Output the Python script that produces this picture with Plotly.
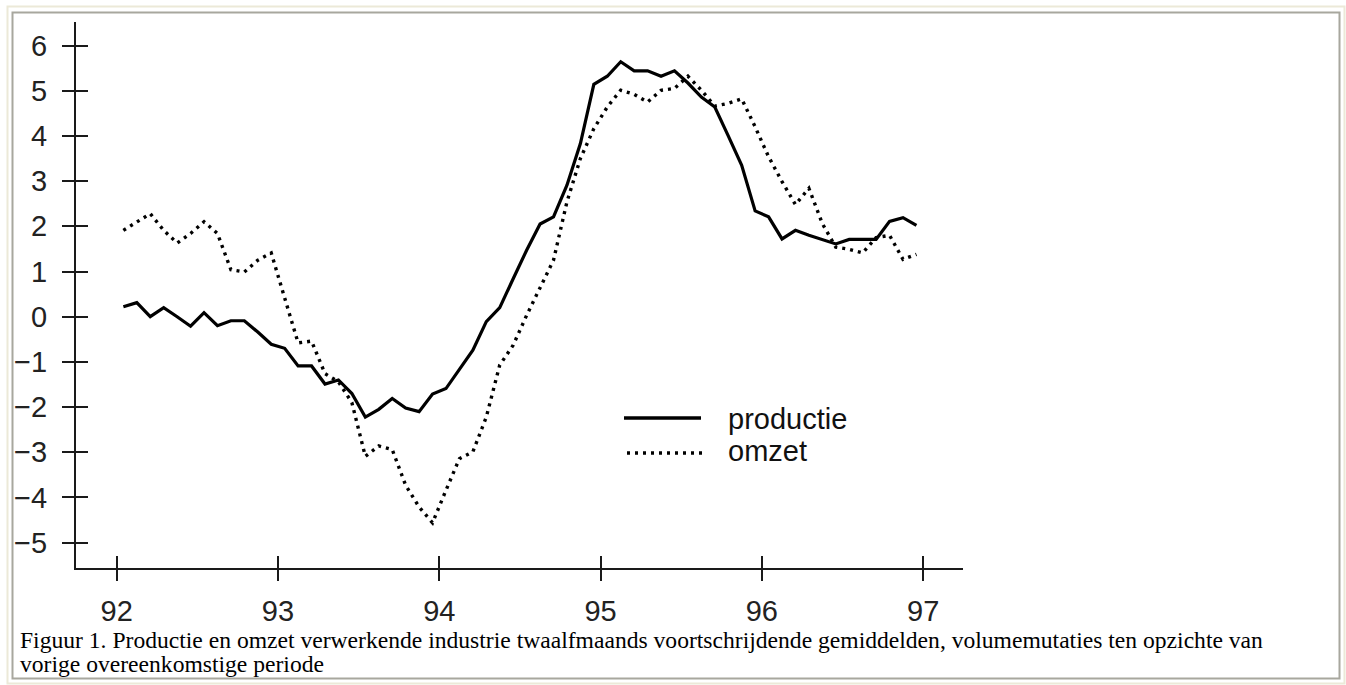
import plotly.graph_objects as go

# ---- data -------------------------------------------------------------
x_tick_vals = [92, 93, 94, 95, 96, 97]
x_tick_text = ["92", "93", "94", "95", "96", "97"]
y_tick_vals = [-5, -4, -3, -2, -1, 0, 1, 2, 3, 4, 5, 6]

# monthly observations Jan 1992 .. Dec 1996 (plotted mid-month)
month_index = list(range(60))
months = [92 + (m + 0.5) / 12 for m in month_index]

productie = [0.22, 0.31, 0.0, 0.2, 0.0, -0.21, 0.09, -0.2, -0.09, -0.09, -0.34, -0.61,
             -0.7, -1.09, -1.09, -1.49, -1.40, -1.70, -2.22, -2.05, -1.81, -2.02, -2.1, -1.71,
             -1.59, -1.15, -0.74, -0.11, 0.2, 0.84, 1.47, 2.05, 2.21, 2.91, 3.83, 5.14,
             5.32, 5.64, 5.44, 5.44, 5.32, 5.44, 5.17, 4.86, 4.64, 4.0, 3.35, 2.34,
             2.21, 1.72, 1.91, 1.80, 1.70, 1.61, 1.71, 1.71, 1.71, 2.11, 2.19, 2.02]

omzet = [1.91, 2.10, 2.28, 1.91, 1.63, 1.84, 2.10, 1.84, 1.04, 0.99, 1.25, 1.41,
         0.40, -0.58, -0.54, -1.26, -1.44, -1.90, -3.09, -2.86, -2.94, -3.73, -4.21, -4.56,
         -3.84, -3.14, -2.99, -2.22, -1.07, -0.63, 0.03, 0.62, 1.25, 2.54, 3.50, 4.16,
         4.64, 5.01, 4.92, 4.75, 5.01, 5.05, 5.32, 5.01, 4.66, 4.72, 4.82, 4.20,
         3.54, 2.99, 2.48, 2.84, 2.06, 1.54, 1.49, 1.41, 1.75, 1.80, 1.27, 1.38]

series_names = ["productie", "omzet"]
caption_lines = [
    "Figuur 1. Productie en omzet verwerkende industrie twaalfmaands voortschrijdende gemiddelden, volumemutaties ten opzichte van",
    "vorige overeenkomstige periode",
]

# ---- geometry ---------------------------------------------------------
W, H = 1346, 685
L, R, T, B = 76, 963, 22, 568          # plot area in pixels
XR = [91.748, 97.247]
YR = [-5.56, 6.52]


def px(xp):
    return (xp - L) / (R - L)


def py(yp):
    return (B - yp) / (B - T)


AX = "#1a1a1a"
TICKFONT = dict(family="Liberation Sans, Arial, Helvetica, sans-serif", size=29, color="#222222")

fig = go.Figure()
fig.add_trace(go.Scatter(x=months, y=productie, mode="lines", name=series_names[0],
                         line=dict(color="#000000", width=3.2), showlegend=False,
                         xaxis="x", yaxis="y"))
fig.add_trace(go.Scatter(x=months, y=omzet, mode="lines", name=series_names[1],
                         line=dict(color="#000000", width=3.4, dash="3px,5px"), showlegend=False,
                         xaxis="x2", yaxis="y2"))

common_x = dict(range=XR, tickmode="array", tickvals=x_tick_vals, showgrid=False,
                zeroline=False, fixedrange=True)
common_y = dict(range=YR, tickmode="array", tickvals=y_tick_vals, showgrid=False,
                zeroline=False, fixedrange=True)

fig.update_layout(
    width=W, height=H, autosize=False,
    margin=dict(l=L, r=W - R, t=T, b=H - B, pad=0),
    paper_bgcolor="white", plot_bgcolor="white",
    xaxis=dict(**common_x, ticktext=x_tick_text, ticks="outside", ticklen=11, tickwidth=2,
               tickcolor=AX, showline=True, linecolor=AX, linewidth=2, tickfont=TICKFONT,
               ticklabelstandoff=5),
    yaxis=dict(**common_y, ticks="outside", ticklen=12, tickwidth=2, tickcolor=AX,
               showline=True, linecolor=AX, linewidth=2, tickfont=TICKFONT,
               ticklabelstandoff=9),
    xaxis2=dict(**common_x, overlaying="x", anchor="y", side="bottom", ticks="inside",
                ticklen=12, tickwidth=2, tickcolor=AX, showticklabels=False, showline=False),
    yaxis2=dict(**common_y, overlaying="y", anchor="x", side="left", ticks="inside",
                ticklen=12, tickwidth=2, tickcolor=AX, showticklabels=False, showline=False),
)

# ---- legend (drawn as key lines + labels) -------------------------------
legend_font = dict(family="Liberation Sans, Arial, Helvetica, sans-serif", size=29, color="#111111")
fig.add_shape(type="line", xref="paper", yref="paper", x0=px(624), x1=px(701), y0=py(418), y1=py(418),
              line=dict(color="#000000", width=3.4))
fig.add_shape(type="line", xref="paper", yref="paper", x0=px(627), x1=px(702), y0=py(453), y1=py(453),
              line=dict(color="#000000", width=3.4, dash="3px,5px"))
fig.add_annotation(xref="paper", yref="paper", x=px(726), y=py(419), xanchor="left", yanchor="middle",
                   text=series_names[0], showarrow=False, font=legend_font)
fig.add_annotation(xref="paper", yref="paper", x=px(726), y=py(451), xanchor="left", yanchor="middle",
                   text=series_names[1], showarrow=False, font=legend_font)

# ---- caption ------------------------------------------------------------
cap_font = dict(family="Liberation Serif, Times New Roman, serif", size=23.6, color="#000000")
fig.add_annotation(xref="paper", yref="paper", x=px(18), y=py(640), xanchor="left", yanchor="middle",
                   text=caption_lines[0], showarrow=False, font=cap_font)
fig.add_annotation(xref="paper", yref="paper", x=px(18), y=py(664), xanchor="left", yanchor="middle",
                   text=caption_lines[1], showarrow=False, font=cap_font)

# ---- page frame -----------------------------------------------------------
fig.add_shape(type="rect", xref="paper", yref="paper", x0=px(7.5), x1=px(1344.5), y0=py(683.5), y1=py(6.5),
              line=dict(color="#ECE9D8", width=2), layer="below")
fig.add_shape(type="rect", xref="paper", yref="paper", x0=px(12.5), x1=px(1339.5), y0=py(678.5), y1=py(12.5),
              line=dict(color="#A8A79E", width=2), layer="below")

fig.write_html("out.html", config={"displayModeBar": False},
               post_script="document.body.style.margin='0';document.body.style.overflow='hidden';")
